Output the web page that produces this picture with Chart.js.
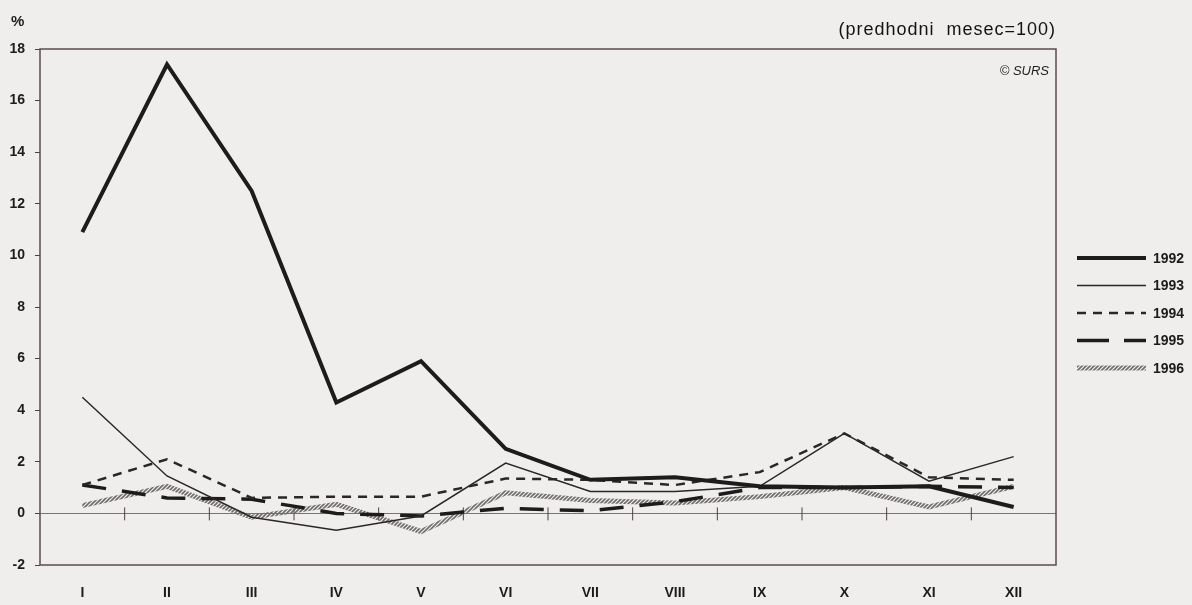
<!DOCTYPE html>
<html lang="sl">
<head>
    <meta charset="UTF-8">
    <title>Indeksi cen (predhodni mesec=100)</title>
    <script src="https://cdn.jsdelivr.net/npm/chart.js"></script>
    <style>
        html, body { margin: 0; padding: 0; background: #efeeec; }
        #wrap { position: relative; width: 1192px; height: 605px; }
    </style>
</head>
<body>
<div id="wrap"><canvas id="priceChart"></canvas></div>

<script>
    // months (roman numerals) and monthly change, previous month = 100
    const months = ['I', 'II', 'III', 'IV', 'V', 'VI', 'VII', 'VIII', 'IX', 'X', 'XI', 'XII'];
    const years = ['1992', '1993', '1994', '1995', '1996'];

    const values1992 = [10.9, 17.4, 12.5, 4.3, 5.9, 2.5, 1.3, 1.4, 1.05, 1.0, 1.05, 0.25];
    const values1993 = [4.5, 1.45, -0.15, -0.65, -0.1, 1.95, 0.85, 0.85, 1.05, 3.1, 1.25, 2.2];
    const values1994 = [1.1, 2.1, 0.6, 0.65, 0.65, 1.35, 1.3, 1.1, 1.6, 3.1, 1.4, 1.3];
    const values1995 = [1.1, 0.6, 0.55, 0.0, -0.1, 0.2, 0.1, 0.45, 1.0, 1.0, 1.05, 1.0];
    const values1996 = [0.3, 1.05, -0.15, 0.35, -0.7, 0.8, 0.5, 0.4, 0.65, 1.0, 0.25, 1.05];

    const yMin = -2, yMax = 18, yStep = 2;

    // hatched stroke for 1996
    function hatch() {
        const c = document.createElement('canvas');
        c.width = 4; c.height = 4;
        const g = c.getContext('2d');
        g.strokeStyle = '#6f6a6b';
        g.lineWidth = 1.6;
        g.beginPath();
        g.moveTo(0, 4); g.lineTo(4, 0);
        g.moveTo(-1, 1); g.lineTo(1, -1);
        g.moveTo(3, 5); g.lineTo(5, 3);
        g.stroke();
        return g.createPattern(c, 'repeat');
    }

    const ink = '#1d1b1c';
    const frameColor = '#5e4a4d';

    const extras = {
        id: 'extras',
        beforeDatasetsDraw(chart) {
            const {ctx, scales: {x, y}} = chart;
            const y0 = y.getPixelForValue(0);
            ctx.save();
            ctx.strokeStyle = '#4f3f42';
            ctx.lineWidth = 1;
            for (let i = 0; i < months.length - 1; i++) {
                const xm = (x.getPixelForValue(i) + x.getPixelForValue(i + 1)) / 2;
                ctx.beginPath();
                ctx.moveTo(xm, y0 - 6);
                ctx.lineTo(xm, y0 + 7);
                ctx.stroke();
            }
            ctx.restore();
        },
        afterDraw(chart) {
            const {ctx, chartArea: a} = chart;
            ctx.save();
            // frame
            ctx.strokeStyle = frameColor;
            ctx.lineWidth = 1.5;
            ctx.strokeRect(a.left, a.top, a.right - a.left, a.bottom - a.top);

            ctx.fillStyle = ink;
            ctx.textBaseline = 'middle';
            ctx.font = 'bold 15px "Liberation Sans", Arial, sans-serif';
            ctx.textAlign = 'left';
            ctx.fillText('%', 11, 22);

            ctx.font = '18px "Liberation Sans", Arial, sans-serif';
            ctx.textAlign = 'right';
            ctx.letterSpacing = '1px';
            ctx.fillStyle = '#141213';
            ctx.fillText('(predhodni  mesec=100)', a.right, 30);
            ctx.letterSpacing = '0px';
            ctx.fillStyle = ink;

            ctx.font = 'italic 13px "Liberation Sans", Arial, sans-serif';
            ctx.fillText('\u00A9 SURS', a.right - 7, 71);

            // legend
            ctx.textAlign = 'left';
            ctx.font = 'bold 14px "Liberation Sans", Arial, sans-serif';
            chart.data.datasets.forEach((ds, i) => {
                const ly = 258 + i * 27.5;
                ctx.save();
                ctx.strokeStyle = ds.borderColor;
                ctx.lineWidth = ds.borderWidth;
                ctx.setLineDash(ds.legendDash || ds.borderDash || []);
                ctx.beginPath();
                ctx.moveTo(1077, ly);
                ctx.lineTo(1146, ly);
                ctx.stroke();
                ctx.restore();
                ctx.fillText(ds.label, 1153, ly + 1);
            });
            ctx.restore();
        }
    };

    const ctx = document.getElementById('priceChart').getContext('2d');
    const priceChart = new Chart(ctx, {
        type: 'line',
        data: {
            labels: months,
            datasets: [
                { label: years[0], data: values1992, borderColor: ink, borderWidth: 4 },
                { label: years[1], data: values1993, borderColor: '#2b2728', borderWidth: 1.5 },
                { label: years[2], data: values1994, borderColor: '#2b2728', borderWidth: 2.5, borderDash: [9, 7] },
                { label: years[3], data: values1995, borderColor: ink, borderWidth: 3.5, borderDash: [24, 16], legendDash: [32, 15] },
                { label: years[4], data: values1996, borderColor: hatch(), borderWidth: 5 }
            ].map(ds => Object.assign({ pointRadius: 0, tension: 0, fill: false, borderJoinStyle: 'miter', borderCapStyle: 'butt' }, ds))
        },
        options: {
            responsive: true,
            maintainAspectRatio: false,
            animation: false,
            layout: { padding: { top: 49, right: 136, left: 0, bottom: 0 } },
            plugins: {
                legend: { display: false },
                tooltip: { enabled: false }
            },
            scales: {
                x: {
                    offset: true,
                    afterFit(scale) { scale.height = 40; },
                    border: { display: false },
                    grid: { display: false, drawTicks: false },
                    ticks: {
                        padding: 20,
                        color: ink,
                        maxRotation: 0,
                        font: { family: '"Liberation Sans", Arial, sans-serif', size: 14, weight: 'bold' }
                    }
                },
                y: {
                    min: yMin,
                    max: yMax,
                    afterFit(scale) { scale.width = 40; },
                    border: { display: false },
                    grid: {
                        drawTicks: true,
                        tickLength: 5,
                        tickColor: '#4f3f42',
                        lineWidth: 1,
                        color: c => c.tick && c.tick.value === 0 ? '#8e6a70' : 'rgba(0,0,0,0)'
                    },
                    ticks: {
                        stepSize: yStep,
                        padding: 10,
                        color: ink,
                        font: { family: '"Liberation Sans", Arial, sans-serif', size: 14, weight: 'bold' }
                    }
                }
            }
        },
        plugins: [extras]
    });
</script>
</body>
</html>
